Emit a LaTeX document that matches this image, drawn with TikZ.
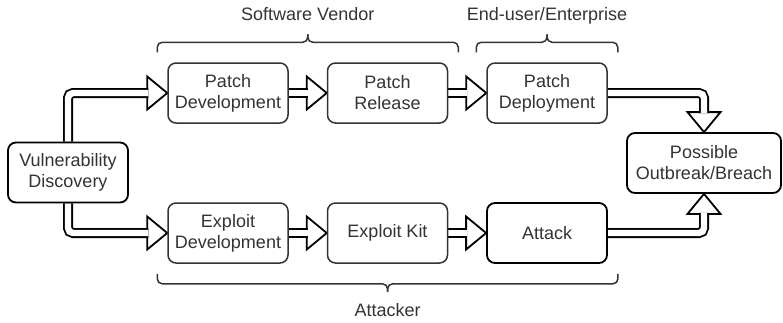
\documentclass[tikz,border=0pt]{standalone}
\usepackage{fontspec}
\setmainfont{Liberation Sans}
\usepackage{xcolor}
\usepackage{tikz}
\usetikzlibrary{calc}
\pgfdeclarelayer{back}
\pgfsetlayers{back,main}
\definecolor{ink}{HTML}{333333}

\begin{document}
\begin{tikzpicture}[x=1pt, y=-1pt, line width=1.8pt]
	\newcommand{\bw}{120pt}
	\newcommand{\bh}{60pt}
	% hollow arrow head, tip at #1, turned by #2
	\newcommand{\tip}[2]{\draw[head, shift={#1}, rotate=#2] (0,0) -- (-20,16.5) -- (-20,-16.5) -- cycle;}
	\tikzstyle{box}=[rectangle, rounded corners=8pt, fill=white, minimum width=\bw, minimum height=\bh, align=center, text=ink, font=\fontsize{18}{21}\selectfont]
	\tikzstyle{gbox}=[box, draw=ink, line width=1.5pt]
	\tikzstyle{kbox}=[box, draw=black, line width=1.8pt]
	\tikzstyle{obox}=[kbox, minimum width=154pt]
	\tikzstyle{shaft}=[draw=black, double=white, double distance=6.4pt, line width=1.8pt, rounded corners=5pt]
	\tikzstyle{head}=[draw=black, fill=white, line width=1.8pt, line join=miter]
	\tikzstyle{brc}=[draw=ink, line width=1.5pt, rounded corners=5pt]
	\tikzstyle{group}=[anchor=base, inner sep=1pt, text=ink, font=\fontsize{18}{21}\selectfont]
	\useasboundingbox (0,0) rectangle (783,322);

	\foreach \n/\x/\y/\s/\t in {vd/68/172.5/kbox/{Vulnerability\\Discovery},
		pd/228/93/gbox/{Patch\\Development}, pr/387.5/93/gbox/{Patch\\Release},
		pdep/547/93/gbox/{Patch\\Deployment},
		ed/228/233/gbox/{Exploit\\Development}, ek/387.5/233/gbox/{Exploit Kit},
		at/547/233/kbox/{Attack}, ob/704/163/obox/{Possible\\Outbreak/Breach}}
		{\node[\s] (\n) at (\x,\y) {\t}; }

	\begin{pgfonlayer}{back}
		\foreach \v in {pd,ed,pr,pdep,ek,at}
			{\tip{(\v.west)}{0} }
		\tip{(ob.north)}{-90}
		\tip{(ob.south)}{90}
		\draw[shaft] (vd.north) |- ($(pd.west)+(-19,0)$);
		\draw[shaft] (vd.south) |- ($(ed.west)+(-19,0)$);
		\draw[shaft] (pd.east) -- ($(pr.west)+(-19,0)$);
		\draw[shaft] (pr.east) -- ($(pdep.west)+(-19,0)$);
		\draw[shaft] (ed.east) -- ($(ek.west)+(-19,0)$);
		\draw[shaft] (ek.east) -- ($(at.west)+(-19,0)$);
		\draw[shaft] (pdep.east) -| ($(ob.north)+(0,-19)$);
		\draw[shaft] (at.east) -| ($(ob.south)+(0,19)$);
	\end{pgfonlayer}

	% braces over the two vendor groups and under the attacker row
	\coordinate (sv1) at ($(pd.north west)+(-10,-10)$);
	\coordinate (sv2) at ($(pr.north east)+(10,-10)$);
	\coordinate (sv) at ($(sv1)!0.5!(sv2)+(0,-18)$);
	\coordinate (eu1) at ($(pdep.north west)+(-10,-10)$);
	\coordinate (eu2) at ($(pdep.north east)+(10,-10)$);
	\coordinate (eu) at ($(eu1)!0.5!(eu2)+(0,-18)$);
	\coordinate (ak1) at ($(ed.south west)+(-10,10)$);
	\coordinate (ak2) at ($(at.south east)+(10,10)$);
	\coordinate (ak) at ($(ak1)!0.5!(ak2)+(0,18)$);
	\foreach \b in {sv,eu}
		{\draw[brc] (\b1) |- ($(\b)+(0,8)$) -- (\b);
		 \draw[brc] (\b) -- ($(\b)+(0,8)$) -| (\b2); }
	\draw[brc] (ak1) |- ($(ak)+(0,-8)$) -- (ak);
	\draw[brc] (ak) -- ($(ak)+(0,-8)$) -| (ak2);

	\node[group] (svl) at ($(sv)+(0,-14)$) {Software Vendor};
	\node[group] (eul) at ($(eu)+(0,-14)$) {End-user/Enterprise};
	\node[group] (akl) at ($(ak)+(0,25)$) {Attacker};
\end{tikzpicture}
\end{document}
